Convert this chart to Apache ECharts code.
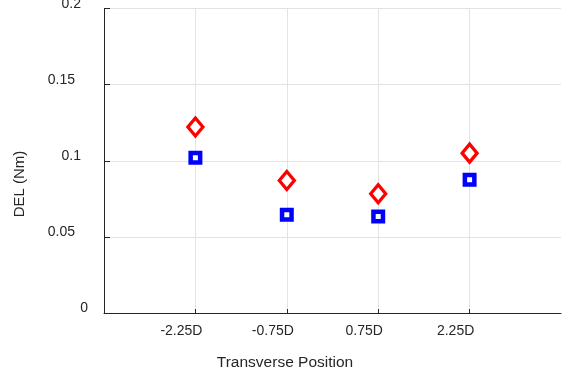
<!DOCTYPE html>
<html>
<head>
<meta charset="utf-8">
<script src="https://cdn.jsdelivr.net/npm/echarts@6/dist/echarts.min.js"></script>
<style>html,body{margin:0;padding:0;background:#fff}#c{width:564px;height:382px}</style>
</head>
<body>
<div id="c"></div>
<script>
var categories = ['', '-2.25D', '-0.75D', '0.75D', '2.25D', ''];
var diamondValues = [null, 0.1222, 0.0870, 0.0783, 0.1050, null];
var squareValues = [null, 0.1020, 0.0645, 0.0634, 0.0875, null];
var yTicks = [0, 0.05, 0.1, 0.15, 0.2];
var yTickLabels = ['0', '0.05', '0.1', '0.15', '0.2'];
var yTitle = 'DEL (Nm)';
var xTitle = 'Transverse Position';

var font = 'Liberation Sans, Arial, Helvetica, sans-serif';
var chart = echarts.init(document.getElementById('c'), null, {renderer: 'canvas'});
var showIdx = function (i) { return i > 0 && i < categories.length - 1; };
chart.setOption({
  animation: false,
  backgroundColor: '#ffffff',
  grid: {left: 104, top: 8.5, right: 3, bottom: 69, containLabel: false, outerBoundsMode: 'none'},
  xAxis: {
    type: 'category',
    data: categories,
    boundaryGap: false,
    axisLine: {show: true, lineStyle: {color: '#262626', width: 1}},
    axisTick: {show: true, inside: true, length: 4, interval: function (i) { return showIdx(i); }, lineStyle: {color: '#262626'}},
    splitLine: {show: true, interval: function (i) { return showIdx(i); }, lineStyle: {color: '#e3e3e3', width: 1}},
    axisLabel: {show: true, interval: 0, margin: 11, fontSize: 14, fontFamily: font, color: '#262626', padding: [0, 28, 0, 0]}
  },
  yAxis: {
    type: 'value',
    min: 0, max: 0.2, interval: 0.05,
    axisLine: {show: true, lineStyle: {color: '#262626', width: 1}},
    axisTick: {show: true, inside: true, length: 6, lineStyle: {color: '#262626'}},
    splitLine: {show: true, lineStyle: {color: '#e3e3e3', width: 1}},
    axisLabel: {
      margin: 16,
      hideOverlap: false,
      formatter: function (v) {
        var k = -1;
        for (var i = 0; i < yTicks.length; i++) { if (Math.abs(yTicks[i] - v) < 1e-9) k = i; }
        var t = k >= 0 ? yTickLabels[k] : '';
        if (t.length === 1) return '{a|' + t + '}';
        if (t.length === 3) return '{b|' + t + '}';
        return '{c|' + t + '}';
      },
      rich: {
        a: {fontSize: 14, fontFamily: font, color: '#262626', padding: [0, 0, 9, 0]},
        b: {fontSize: 14, fontFamily: font, color: '#262626', padding: [0, 7, 9, 0]},
        c: {fontSize: 14, fontFamily: font, color: '#262626', padding: [0, 13, 9, 0]}
      }
    }
  },
  series: [
    {
      type: 'scatter',
      data: diamondValues,
      symbol: 'diamond',
      symbolSize: [15, 18],
      itemStyle: {color: '#ffffff', borderColor: '#ff0000', borderWidth: 3.3, opacity: 1},
      z: 3
    },
    {
      type: 'scatter',
      data: squareValues,
      symbol: 'rect',
      symbolSize: 9.5,
      itemStyle: {color: '#ffffff', borderColor: '#0000ff', borderWidth: 4.5, opacity: 1},
      z: 3
    }
  ],
  graphic: [
    {type: 'text', x: 20, y: 184, rotation: Math.PI / 2, style: {text: yTitle, font: '15px ' + font, fill: '#262626', align: 'center', verticalAlign: 'middle'}},
    {type: 'text', x: 285, y: 363, style: {text: xTitle, font: '15.5px ' + font, fill: '#262626', align: 'center', verticalAlign: 'middle'}}
  ]
});
</script>
</body>
</html>
